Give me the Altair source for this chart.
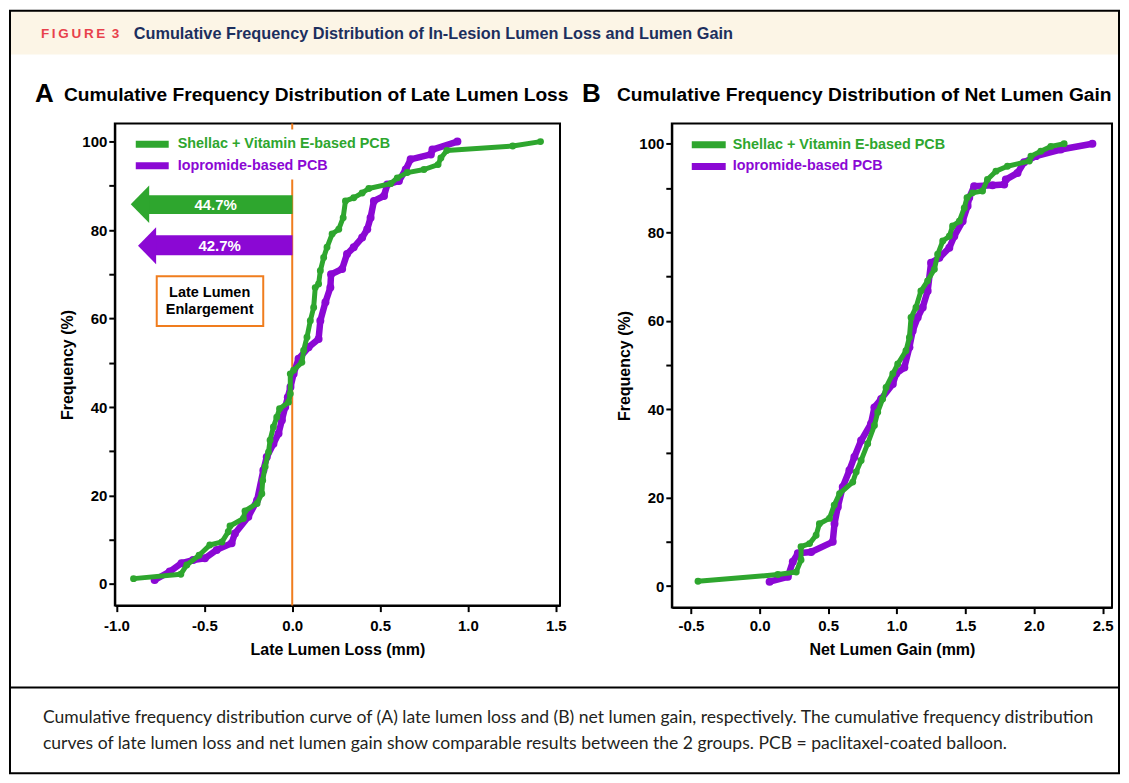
import altair as alt
import pandas as pd

# ------------------------------------------------------------------ data
SERIES = ["Shellac + Vitamin E-based PCB", "Iopromide-based PCB"]

A_green_x = [-0.903, -0.634, -0.600, -0.530, -0.469, -0.400, -0.364, -0.354, -0.278, -0.269,
             -0.200, -0.173, -0.168, -0.154, -0.135, -0.126, -0.107, -0.088, -0.072, -0.021,
             -0.011, -0.011, 0.008, 0.055, 0.065, 0.084, 0.103, 0.122, 0.131, 0.150,
             0.160, 0.179, 0.198, 0.227, 0.265, 0.290, 0.303, 0.350, 0.398, 0.436,
             0.560, 0.598, 0.655, 0.750, 0.830, 0.846, 0.880, 1.255, 1.413]
A_green_y = [1.2, 2.2, 4.3, 6.5, 8.8, 9.5, 11.8, 13.1, 14.8, 16.5,
             18.2, 20.4, 23.4, 26.5, 29.8, 32.5, 35.5, 37.7, 39.6, 41.1,
             43.0, 47.5, 48.3, 50.1, 52.8, 55.8, 59.5, 62.5, 67.0, 67.8,
             70.8, 73.8, 76.1, 79.1, 80.2, 82.8, 86.6, 87.3, 88.4, 89.4,
             90.5, 91.8, 93.0, 93.7, 94.8, 96.3, 98.0, 99.0, 100.0]

A_purple_x = [-0.783, -0.697, -0.630, -0.564, -0.497, -0.430, -0.345, -0.326, -0.250, -0.200,
              -0.164, -0.145, -0.107, -0.078, -0.059, -0.040, -0.025, -0.010, 0.008, 0.036,
              0.093, 0.150, 0.160, 0.189, 0.217, 0.221, 0.284, 0.312, 0.350, 0.398,
              0.427, 0.446, 0.465, 0.522, 0.541, 0.607, 0.646, 0.674, 0.789, 0.798, 0.940]
A_purple_y = [0.9, 2.8, 4.7, 5.4, 5.8, 7.7, 9.2, 11.4, 15.2, 18.9,
              25.7, 28.7, 31.7, 34.0, 37.0, 40.0, 42.2, 44.5, 47.5, 50.9,
              53.5, 55.4, 59.5, 63.7, 67.0, 70.0, 71.2, 74.6, 76.1, 78.3,
              80.2, 82.8, 86.6, 87.7, 90.3, 91.1, 93.7, 96.0, 97.1, 98.2, 100.0]

B_green_x = [-0.449, 0.133, 0.267, 0.302, 0.302, 0.364, 0.412, 0.436, 0.509, 0.544,
             0.583, 0.679, 0.704, 0.740, 0.788, 0.837, 0.861, 0.897, 0.922, 0.971,
             1.007, 1.067, 1.092, 1.104, 1.140, 1.176, 1.225, 1.274, 1.298, 1.335,
             1.383, 1.407, 1.456, 1.492, 1.512, 1.552, 1.625, 1.661, 1.723, 1.807,
             1.966, 1.978, 2.050, 2.123, 2.220]
B_green_y = [1.1, 2.6, 3.2, 5.9, 8.9, 9.6, 11.5, 14.1, 15.3, 18.3,
             20.9, 23.5, 25.8, 28.4, 32.2, 36.3, 39.3, 42.3, 44.9, 48.0,
             50.2, 53.2, 56.2, 60.7, 63.0, 66.7, 69.0, 71.6, 75.0, 78.0,
             79.1, 81.4, 82.5, 85.5, 87.8, 88.9, 89.3, 91.9, 93.8, 94.9,
             96.1, 97.2, 98.3, 99.4, 100.0]

B_purple_x = [0.073, 0.206, 0.242, 0.279, 0.376, 0.533, 0.546, 0.570, 0.606, 0.655,
              0.691, 0.740, 0.812, 0.837, 0.886, 0.971, 0.995, 1.055, 1.092, 1.116,
              1.152, 1.189, 1.225, 1.250, 1.310, 1.383, 1.419, 1.480, 1.516, 1.528,
              1.564, 1.698, 1.783, 1.795, 1.880, 1.928, 2.014, 2.195, 2.426]
B_purple_y = [1.0, 2.1, 5.5, 7.4, 7.7, 10.0, 14.1, 17.9, 22.4, 26.2,
              29.2, 32.9, 36.7, 40.4, 42.3, 45.7, 48.0, 49.4, 54.0, 57.7,
              60.7, 63.0, 66.7, 73.1, 74.2, 76.5, 79.1, 82.5, 85.9, 87.8,
              90.4, 90.6, 90.8, 91.9, 93.4, 95.8, 97.2, 98.7, 100.0]

A_x_ticks = [-1.0, -0.5, 0.0, 0.5, 1.0, 1.5]
B_x_ticks = [-0.5, 0.0, 0.5, 1.0, 1.5, 2.0, 2.5]
Y_ticks = [0, 10, 20, 30, 40, 50, 60, 70, 80, 90, 100]
arrow_labels = ["44.7%", "42.7%"]

HEADER_TAG = "F\u2009I\u2009G\u2009U\u2009R\u2009E\u2009 3"
HEADER_TITLE = "Cumulative Frequency Distribution of In-Lesion Lumen Loss and Lumen Gain"
TITLE_A = "Cumulative Frequency Distribution of Late Lumen Loss"
TITLE_B = "Cumulative Frequency Distribution of Net Lumen Gain"
CAPTION_1 = ("Cumulative frequency distribution curve of (A) late lumen loss and (B) net lumen gain, "
             "respectively. The cumulative frequency distribution")
CAPTION_2 = ("curves of late lumen loss and net lumen gain show comparable results between the 2 groups. "
             "PCB = paclitaxel-coated balloon.")

# ------------------------------------------------------------------ style
GREEN, PURPLE, ORANGE = "#2ea62e", "#8b08d4", "#f07d1e"
FONT = "Liberation Sans, Arial, Helvetica, sans-serif"
CAP_FONT = "Lato, Liberation Sans, sans-serif"
W_A, W_B = 446, 441
H_A, H_B = 483, 485
OA = (114, 122)   # page position of panel A plot area
OB = (672, 122)   # page position of panel B plot area

color_scale = alt.Scale(domain=SERIES, range=[GREEN, PURPLE])
Y_SCALE_A = alt.Scale(domain=[-4.9, 104.1], nice=False, zero=False)
Y_SCALE_B = alt.Scale(domain=[-4.87, 104.58], nice=False, zero=False)

ONE = pd.DataFrame({"k": [0]})


def curve_df(xs, ys, name):
    return pd.DataFrame({"x": xs, "y": ys, "series": name, "i": list(range(len(xs)))})


def x_axis(values, title, label_pad, title_pad):
    return alt.Axis(values=values, title=title,
                    labelExpr="datum.value < 0 ? '-' + format(-datum.value, '.1f') : format(datum.value, '.1f')",
                    tickSize=6, tickWidth=2, tickColor="black", domainColor="black", domainWidth=2,
                    labelFont=FONT, labelFontSize=15, labelFontWeight="bold", labelColor="black",
                    labelPadding=label_pad, labelFlush=False, labelOverlap=False,
                    titleFont=FONT, titleFontSize=16, titleFontWeight="bold", titleColor="black",
                    titlePadding=title_pad, grid=False)


def y_axis():
    return alt.Axis(values=Y_ticks, title="Frequency (%)",
                    labelExpr="datum.value % 20 === 0 ? datum.label : ''",
                    tickSize=6, tickWidth=2, tickColor="black", domainColor="black", domainWidth=2,
                    labelFont=FONT, labelFontSize=15, labelFontWeight="bold", labelColor="black",
                    labelPadding=2, labelFlush=False, labelOverlap=False,
                    titleFont=FONT, titleFontSize=16, titleFontWeight="bold", titleColor="black",
                    titlePadding=6, grid=False)


def curve_layers(dfg, dfp, xscale, xaxis, yscale):
    X = alt.X("x:Q", scale=xscale, axis=xaxis)
    Y = alt.Y("y:Q", scale=yscale, axis=y_axis())
    C = alt.Color("series:N", scale=color_scale, legend=None)
    lp = alt.Chart(dfp).mark_line(strokeWidth=6.5, strokeJoin="round", strokeCap="round").encode(
        x=X, y=Y, color=C, order=alt.Order("i:Q"))
    pp = alt.Chart(dfp).mark_circle(size=64, opacity=1).encode(x=X, y=Y, color=C)
    lg = alt.Chart(dfg).mark_line(strokeWidth=5, strokeJoin="round", strokeCap="round").encode(
        x=X, y=Y, color=C, order=alt.Order("i:Q"))
    pg = alt.Chart(dfg).mark_circle(size=48, opacity=1).encode(x=X, y=Y, color=C)
    return [lp, pp, lg, pg]


def text_at(s, x, y, size, origin, color="black", weight="bold", align="left",
            baseline="alphabetic", font=FONT):
    return alt.Chart(ONE).mark_text(text=s, align=align, baseline=baseline, fontSize=size,
                                    fontWeight=weight, font=font, color=color).encode(
        x=alt.value(x - origin[0]), y=alt.value(y - origin[1]))


def rect_at(x, x2, y, y2, origin, fill="white", fill_opacity=1.0, stroke="black", sw=0):
    return alt.Chart(ONE).mark_rect(fill=fill, fillOpacity=fill_opacity, stroke=stroke,
                                    strokeWidth=sw).encode(
        x=alt.value(x - origin[0]), x2=alt.value(x2 - origin[0]),
        y=alt.value(y - origin[1]), y2=alt.value(y2 - origin[1]))


def hrule_at(x, x2, y, origin, color, sw):
    return alt.Chart(ONE).mark_rule(color=color, strokeWidth=sw).encode(
        x=alt.value(x - origin[0]), x2=alt.value(x2 - origin[0]), y=alt.value(y - origin[1]))


def legend_layers(origin, x0, x1, xt, ys):
    out = []
    for name, y in zip(SERIES, ys):
        col = GREEN if name == SERIES[0] else PURPLE
        out.append(hrule_at(x0, x1, y, origin, col, 7))
        out.append(text_at(name, xt, y, 14.4, origin, color=col, baseline="middle"))
    return out


# ------------------------------------------------------------------ panel A
xsA = alt.Scale(domain=[-1.0097, 1.524], nice=False, zero=False)
dfAg = curve_df(A_green_x, A_green_y, SERIES[0])
dfAp = curve_df(A_purple_x, A_purple_y, SERIES[1])

deco_A = [
    rect_at(9, 1120, 9, 53, OA, fill="#fcf5e6", stroke="#fcf5e6", sw=0),
    rect_at(9, 1120, 9, 773, OA, fill="white", fill_opacity=0, stroke="black", sw=2),
    hrule_at(9, 1120, 687, OA, "black", 2),
    text_at(HEADER_TAG, 40, 36, 13.5, OA, color="#e8414c"),
    text_at(HEADER_TITLE, 133, 37, 16.3, OA, color="#1c2f5e"),
    text_at("A", 34, 100, 26, OA),
    text_at(TITLE_A, 63, 99, 19.2, OA),
    text_at(CAPTION_1, 42, 723, 17.6, OA, color="#231f20", weight="normal", font=CAP_FONT),
    text_at(CAPTION_2, 42, 749, 17.6, OA, color="#231f20", weight="normal", font=CAP_FONT),
]

zero_line = [
    alt.Chart(ONE).mark_rule(color=ORANGE, strokeWidth=2).encode(
        x=alt.datum(0, scale=xsA), y=alt.value(178 - OA[1]), y2=alt.value(H_A)),
    alt.Chart(ONE).mark_rule(color=ORANGE, strokeWidth=2).encode(
        x=alt.datum(0, scale=xsA), y=alt.value(0), y2=alt.value(128 - OA[1])),
]

HEAD = "M -0.49 0 L 0.49 -1 L 0.49 1 Z"
arrows = [
    rect_at(147, 292, 194, 212.7, OA, fill=GREEN, stroke=GREEN, sw=0),
    alt.Chart(ONE).mark_point(shape=HEAD, filled=True, opacity=1, color=GREEN, size=1421, strokeWidth=0).encode(
        x=alt.value(139.2 - OA[0]), y=alt.value(202.9 - OA[1])),
    text_at(arrow_labels[0], 215, 203.5, 15, OA, color="white", align="center", baseline="middle"),
    rect_at(155, 292, 234, 254, OA, fill=PURPLE, stroke=PURPLE, sw=0),
    alt.Chart(ONE).mark_point(shape=HEAD, filled=True, opacity=1, color=PURPLE, size=1369, strokeWidth=0).encode(
        x=alt.value(146.3 - OA[0]), y=alt.value(244.5 - OA[1])),
    text_at(arrow_labels[1], 219, 245, 15, OA, color="white", align="center", baseline="middle"),
    rect_at(156, 262.7, 275, 325, OA, fill="white", stroke=ORANGE, sw=2),
    text_at("Late Lumen", 209, 292.3, 14.5, OA, align="center", baseline="middle"),
    text_at("Enlargement", 209, 309.3, 14.5, OA, align="center", baseline="middle"),
]

panel_A = alt.layer(
    *deco_A, *zero_line, *arrows,
    *curve_layers(dfAg, dfAp, xsA, x_axis(A_x_ticks, "Late Lumen Loss (mm)", 7, 8), Y_SCALE_A),
    *legend_layers(OA, 135, 168, 177, [142.7, 164.3]),
).properties(width=W_A, height=H_A)

# ------------------------------------------------------------------ panel B
xsB = alt.Scale(domain=[-0.640, 2.569], nice=False, zero=False)
dfBg = curve_df(B_green_x, B_green_y, SERIES[0])
dfBp = curve_df(B_purple_x, B_purple_y, SERIES[1])

deco_B = [
    text_at("B", 582, 100, 26, OB),
    text_at(TITLE_B, 617, 99, 19.25, OB),
]

panel_B = alt.layer(
    *deco_B,
    *curve_layers(dfBg, dfBp, xsB, x_axis(B_x_ticks, "Net Lumen Gain (mm)", 5, 8), Y_SCALE_B),
    *legend_layers(OB, 692, 726, 733, [143.3, 165]),
).properties(width=W_B, height=H_B)

chart = alt.hconcat(panel_A, panel_B, spacing=OB[0] - OA[0] - W_A, bounds="flush").properties(
    padding={"left": 0, "top": 0, "right": 0, "bottom": 0},
    background="white",
).configure_view(stroke="black", strokeWidth=2)

chart.save("out.html", embed_options={"renderer": "svg", "actions": False})
